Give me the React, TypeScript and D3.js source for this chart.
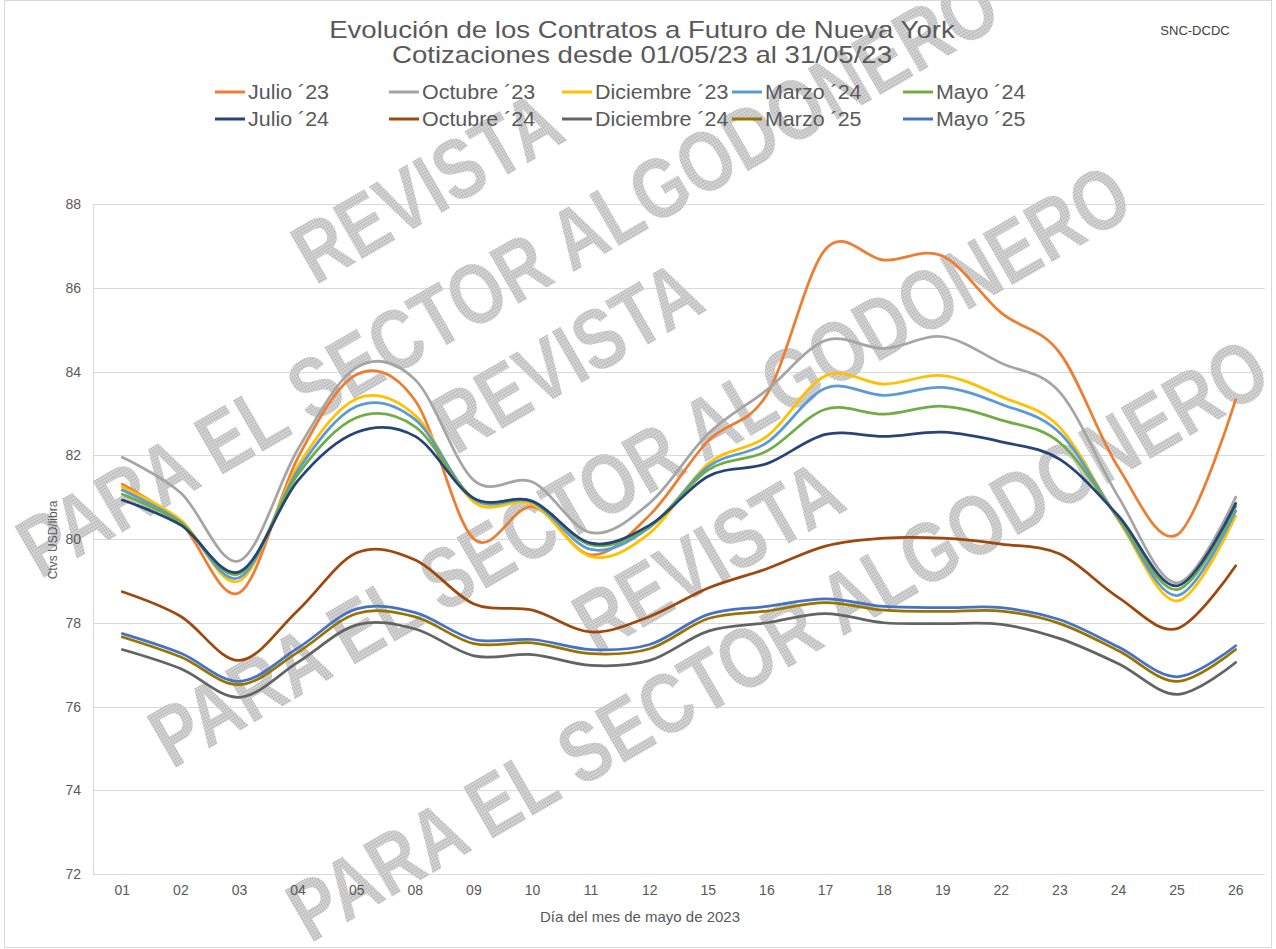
import React, { useEffect, useRef } from 'react';
import * as d3 from 'd3';

const dates = ["01", "02", "03", "04", "05", "08", "09", "10", "11", "12", "15", "16", "17", "18", "19", "22", "23", "24", "25", "26"];

const julio23 = [81.31, 80.38, 78.72, 81.95, 83.93, 83.3, 80.0, 80.77, 79.62, 80.57, 82.35, 83.45, 86.92, 86.66, 86.76, 85.4, 84.44, 81.7, 80.1, 83.33];
const octubre23 = [81.95, 81.1, 79.48, 82.15, 84.1, 83.8, 81.4, 81.36, 80.15, 80.86, 82.52, 83.56, 84.74, 84.55, 84.83, 84.2, 83.5, 81.0, 78.95, 81.0];
const diciembre23 = [81.24, 80.45, 79.0, 81.75, 83.35, 82.95, 80.88, 80.83, 79.58, 80.14, 81.8, 82.45, 83.9, 83.7, 83.9, 83.4, 82.66, 80.45, 78.52, 80.55];
const marzo24 = [81.17, 80.4, 79.08, 81.65, 83.17, 82.85, 80.95, 80.88, 79.75, 80.28, 81.73, 82.3, 83.6, 83.43, 83.62, 83.22, 82.53, 80.48, 78.65, 80.67];
const mayo24 = [81.07, 80.38, 79.17, 81.55, 82.9, 82.68, 80.97, 80.9, 79.86, 80.3, 81.65, 82.1, 83.1, 82.98, 83.17, 82.84, 82.3, 80.5, 78.79, 80.78];
const julio24 = [80.93, 80.33, 79.22, 81.4, 82.55, 82.45, 80.97, 80.9, 79.9, 80.33, 81.5, 81.8, 82.5, 82.45, 82.55, 82.32, 81.9, 80.55, 78.88, 80.85];
const octubre24 = [78.74, 78.15, 77.1, 78.3, 79.67, 79.5, 78.45, 78.3, 77.78, 78.15, 78.83, 79.29, 79.83, 80.02, 80.02, 79.88, 79.64, 78.6, 77.86, 79.36];
const diciembre24 = [77.36, 76.9, 76.22, 77.06, 77.95, 77.85, 77.21, 77.24, 76.98, 77.1, 77.8, 78.0, 78.22, 78.0, 77.98, 77.96, 77.62, 77.02, 76.29, 77.05];
const marzo25 = [77.66, 77.18, 76.52, 77.3, 78.22, 78.14, 77.5, 77.52, 77.26, 77.38, 78.1, 78.28, 78.48, 78.3, 78.27, 78.28, 77.98, 77.33, 76.6, 77.36];
const mayo25 = [77.74, 77.27, 76.6, 77.4, 78.33, 78.24, 77.6, 77.6, 77.36, 77.48, 78.2, 78.39, 78.57, 78.39, 78.36, 78.36, 78.07, 77.42, 76.71, 77.45];

const seriesNames = ["Julio ´23", "Octubre ´23", "Diciembre ´23", "Marzo ´24", "Mayo ´24", "Julio ´24", "Octubre ´24", "Diciembre ´24", "Marzo ´25", "Mayo ´25"];
const seriesValues = [julio23, octubre23, diciembre23, marzo24, mayo24, julio24, octubre24, diciembre24, marzo25, mayo25];
const seriesColors = ["#ED7D31", "#A5A5A5", "#FFC000", "#5B9BD5", "#70AD47", "#264478", "#9E480E", "#636363", "#997300", "#4472C4"];

const yTicks = [72, 74, 76, 78, 80, 82, 84, 86, 88];

const titleLines = ["Evolución de los Contratos a Futuro de Nueva York", "Cotizaciones desde 01/05/23 al 31/05/23"];
const xAxisTitle = "Día del mes de mayo de 2023";
const yAxisTitle = "Ctvs USD/libra";
const sourceLabel = "SNC-DCDC";

const watermarkRevista = "REVISTA";
const watermarkSector = "PARA EL SECTOR ALGODONERO";

export default function App() {
  const ref = useRef<SVGSVGElement>(null);

  useEffect(() => {
    document.body.style.margin = '0';
    const W = 1276, H = 949;
    const left = 93, right = 1265, top = 204, bottom = 874;
    const svg = d3.select(ref.current);
    svg.selectAll('*').remove();
    const font = "'Liberation Sans', Arial, sans-serif";
    const textColor = '#595959';

    svg.append('rect').attr('x', 0).attr('y', 0).attr('width', W).attr('height', H).attr('fill', '#fff');
    svg.append('rect').attr('x', 4.5).attr('y', 0.5).attr('width', 1267).attr('height', 947)
      .attr('fill', 'none').attr('stroke', '#d9d9d9');

    const defs = svg.append('defs');
    const pat = defs.append('pattern').attr('id', 'dots').attr('patternUnits', 'userSpaceOnUse')
      .attr('width', 3).attr('height', 3);
    pat.append('rect').attr('width', 3).attr('height', 3).attr('fill', '#dadada');
    pat.append('circle').attr('cx', 1.5).attr('cy', 1.5).attr('r', 0.9).attr('fill', '#a6a6a6');

    const x = d3.scaleBand<string>().domain(dates).range([left, right]);
    const cx = (d: string) => (x(d) as number) + x.bandwidth() / 2;
    const y = d3.scaleLinear().domain([72, 88]).range([bottom, top]);

    // gridlines
    const grid = svg.append('g');
    grid.selectAll('line.g').data(yTicks).enter().append('line')
      .attr('x1', left).attr('x2', right)
      .attr('y1', d => Math.round(y(d)) + 0.5).attr('y2', d => Math.round(y(d)) + 0.5)
      .attr('stroke', '#d9d9d9').attr('stroke-width', 1);
    grid.append('line').attr('x1', left + 0.5).attr('x2', left + 0.5).attr('y1', top).attr('y2', bottom)
      .attr('stroke', '#d9d9d9');

    // watermark
    const wm = svg.append('g').attr('font-family', font).attr('font-weight', 'bold')
      .attr('font-size', 86).attr('fill', 'url(#dots)');
    const wmRevista = [[315, 286], [455, 456], [596, 655]];
    const wmSector = [[40, 580], [172, 770], [310, 944]];
    wmRevista.forEach(([px, py]) => {
      wm.append('text').attr('transform', `translate(${px},${py}) rotate(-30) scale(0.8,1)`).text(watermarkRevista);
    });
    wmSector.forEach(([px, py]) => {
      wm.append('text').attr('transform', `translate(${px},${py}) rotate(-30) scale(0.8,1)`).text(watermarkSector);
    });

    // lines
    const line = d3.line<number>()
      .x((_, i) => cx(dates[i]))
      .y(d => y(d))
      .curve(d3.curveCardinal.tension(0));
    const lg = svg.append('g');
    seriesValues.forEach((vals, i) => {
      lg.append('path').attr('d', line(vals) as string).attr('fill', 'none')
        .attr('stroke', seriesColors[i]).attr('stroke-width', 2.75)
        .attr('stroke-linecap', 'round').attr('stroke-linejoin', 'round');
    });

    // axes labels
    const ax = svg.append('g').attr('font-family', font).attr('fill', textColor);
    ax.selectAll('text.yt').data(yTicks).enter().append('text')
      .attr('x', 81).attr('y', d => y(d) + 5).attr('text-anchor', 'end')
      .attr('font-size', 14).text(d => String(d));
    ax.selectAll('text.xt').data(dates).enter().append('text')
      .attr('x', d => cx(d)).attr('y', 895).attr('text-anchor', 'middle')
      .attr('font-size', 14).text(d => d);
    ax.append('text').attr('x', 640).attr('y', 922).attr('text-anchor', 'middle')
      .attr('font-size', 15).text(xAxisTitle);
    ax.append('text').attr('transform', 'translate(57,540) rotate(-90)').attr('text-anchor', 'middle')
      .attr('font-size', 12).text(yAxisTitle);

    // title
    const tg = svg.append('g').attr('font-family', font).attr('fill', textColor).attr('text-anchor', 'middle');
    tg.append('text').attr('transform', 'translate(642,38) scale(1.2,1)').attr('font-size', 23).text(titleLines[0]);
    tg.append('text').attr('transform', 'translate(642,63) scale(1.2,1)').attr('font-size', 23).text(titleLines[1]);
    svg.append('text').attr('x', 1195).attr('y', 35).attr('text-anchor', 'middle')
      .attr('font-family', font).attr('font-size', 13).attr('fill', '#404040').text(sourceLabel);

    // legend
    const colX = [215, 389, 562, 732, 903];
    const rowY = [92, 119];
    const leg = svg.append('g').attr('font-family', font);
    seriesNames.forEach((name, i) => {
      const lx = colX[i % 5];
      const ly = rowY[Math.floor(i / 5)];
      leg.append('line').attr('x1', lx).attr('x2', lx + 30).attr('y1', ly).attr('y2', ly)
        .attr('stroke', seriesColors[i]).attr('stroke-width', 3);
      leg.append('text').attr('transform', `translate(${lx + 33},${ly + 7}) scale(1.1,1)`).attr('font-size', 19.5)
        .attr('fill', textColor).text(name);
    });
  }, []);

  return <svg ref={ref} width={1276} height={949} style={{ display: 'block' }} />;
}
